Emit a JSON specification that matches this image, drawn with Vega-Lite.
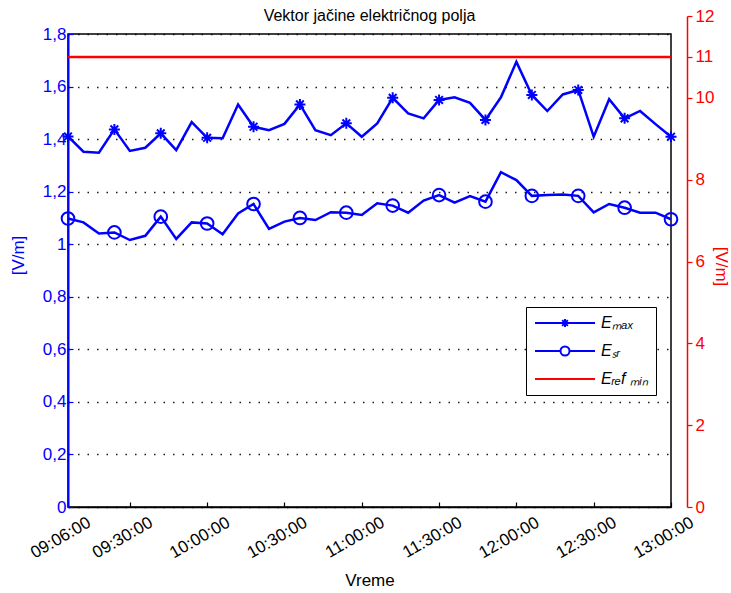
{
  "$schema": "https://vega.github.io/schema/vega-lite/v6.json",
  "width": 603,
  "height": 473,
  "autosize": {"type": "none"},
  "padding": {"left": 68, "top": 34, "right": 60, "bottom": 86},
  "background": "white",
  "title": {"text": "Vektor jačine električnog polja", "fontSize": 16, "fontWeight": "normal", "font": "Liberation Sans", "color": "black", "offset": 0, "dy": 17},
  "config": {
    "font": "Liberation Sans",
    "view": {"stroke": "black", "strokeWidth": 1.5}
  },
  "datasets": {
    "e": [
      {"t": "2000-01-01T09:06:00", "Emax": 1.410, "Esr": 1.098},
      {"t": "2000-01-01T09:12:00", "Emax": 1.352, "Esr": 1.083},
      {"t": "2000-01-01T09:18:00", "Emax": 1.348, "Esr": 1.041},
      {"t": "2000-01-01T09:24:00", "Emax": 1.437, "Esr": 1.045},
      {"t": "2000-01-01T09:30:00", "Emax": 1.355, "Esr": 1.016},
      {"t": "2000-01-01T09:36:00", "Emax": 1.367, "Esr": 1.032},
      {"t": "2000-01-01T09:42:00", "Emax": 1.422, "Esr": 1.105},
      {"t": "2000-01-01T09:48:00", "Emax": 1.358, "Esr": 1.020},
      {"t": "2000-01-01T09:54:00", "Emax": 1.465, "Esr": 1.083},
      {"t": "2000-01-01T10:00:00", "Emax": 1.405, "Esr": 1.079},
      {"t": "2000-01-01T10:06:00", "Emax": 1.403, "Esr": 1.038},
      {"t": "2000-01-01T10:12:00", "Emax": 1.532, "Esr": 1.117},
      {"t": "2000-01-01T10:18:00", "Emax": 1.447, "Esr": 1.153},
      {"t": "2000-01-01T10:24:00", "Emax": 1.434, "Esr": 1.058},
      {"t": "2000-01-01T10:30:00", "Emax": 1.458, "Esr": 1.086},
      {"t": "2000-01-01T10:36:00", "Emax": 1.532, "Esr": 1.100},
      {"t": "2000-01-01T10:42:00", "Emax": 1.434, "Esr": 1.092},
      {"t": "2000-01-01T10:48:00", "Emax": 1.415, "Esr": 1.122},
      {"t": "2000-01-01T10:54:00", "Emax": 1.460, "Esr": 1.120},
      {"t": "2000-01-01T11:00:00", "Emax": 1.409, "Esr": 1.111},
      {"t": "2000-01-01T11:06:00", "Emax": 1.460, "Esr": 1.156},
      {"t": "2000-01-01T11:12:00", "Emax": 1.557, "Esr": 1.147},
      {"t": "2000-01-01T11:18:00", "Emax": 1.498, "Esr": 1.120},
      {"t": "2000-01-01T11:24:00", "Emax": 1.479, "Esr": 1.166},
      {"t": "2000-01-01T11:30:00", "Emax": 1.549, "Esr": 1.187},
      {"t": "2000-01-01T11:36:00", "Emax": 1.559, "Esr": 1.158},
      {"t": "2000-01-01T11:42:00", "Emax": 1.538, "Esr": 1.183},
      {"t": "2000-01-01T11:48:00", "Emax": 1.473, "Esr": 1.162},
      {"t": "2000-01-01T11:54:00", "Emax": 1.559, "Esr": 1.274},
      {"t": "2000-01-01T12:00:00", "Emax": 1.694, "Esr": 1.244},
      {"t": "2000-01-01T12:06:00", "Emax": 1.568, "Esr": 1.184},
      {"t": "2000-01-01T12:12:00", "Emax": 1.507, "Esr": 1.187},
      {"t": "2000-01-01T12:18:00", "Emax": 1.570, "Esr": 1.189},
      {"t": "2000-01-01T12:24:00", "Emax": 1.587, "Esr": 1.184},
      {"t": "2000-01-01T12:30:00", "Emax": 1.409, "Esr": 1.121},
      {"t": "2000-01-01T12:36:00", "Emax": 1.552, "Esr": 1.153},
      {"t": "2000-01-01T12:42:00", "Emax": 1.479, "Esr": 1.139},
      {"t": "2000-01-01T12:48:00", "Emax": 1.507, "Esr": 1.120},
      {"t": "2000-01-01T12:54:00", "Emax": 1.457, "Esr": 1.120},
      {"t": "2000-01-01T13:00:00", "Emax": 1.409, "Esr": 1.095}
    ],
    "ref": [
      {"series": "Eref min", "value": 11}
    ]
  },
  "data": {"name": "e"},
  "layer": [
    {
      "layer": [
        {
          "transform": [{"fold": ["Emax", "Esr"], "as": ["series", "value"]}],
          "mark": {"type": "line", "color": "#0000ff", "strokeWidth": 2.5},
          "encoding": {
            "x": {
              "field": "t", "type": "temporal", "title": "Vreme",
              "scale": {"domain": [{"year": 2000, "month": 1, "date": 1, "hours": 9, "minutes": 6}, {"year": 2000, "month": 1, "date": 1, "hours": 13, "minutes": 0}]},
              "axis": {
                "values": [
                  {"year": 2000, "month": 1, "date": 1, "hours": 9, "minutes": 6},
                  {"year": 2000, "month": 1, "date": 1, "hours": 9, "minutes": 30},
                  {"year": 2000, "month": 1, "date": 1, "hours": 10, "minutes": 0},
                  {"year": 2000, "month": 1, "date": 1, "hours": 10, "minutes": 30},
                  {"year": 2000, "month": 1, "date": 1, "hours": 11, "minutes": 0},
                  {"year": 2000, "month": 1, "date": 1, "hours": 11, "minutes": 30},
                  {"year": 2000, "month": 1, "date": 1, "hours": 12, "minutes": 0},
                  {"year": 2000, "month": 1, "date": 1, "hours": 12, "minutes": 30},
                  {"year": 2000, "month": 1, "date": 1, "hours": 13, "minutes": 0}
                ],
                "format": "%H:%M:%S",
                "grid": false,
                "domainColor": "black", "domainWidth": 1.5,
                "tickColor": "black", "tickSize": -5, "tickWidth": 1.2,
                "labelAngle": -30, "labelAlign": "right", "labelBaseline": "top",
                "labelOffset": 17, "labelPadding": 12, "labelFontSize": 17, "labelColor": "black",
                "labelOverlap": false, "labelBound": false, "labelFlush": false,
                "titleFontSize": 17, "titleFontWeight": "normal", "titleColor": "black",
                "titleY": 65, "titleBaseline": "top"
              }
            },
            "y": {
              "field": "value", "type": "quantitative", "title": "[V/m]",
              "scale": {"domain": [0, 1.8]},
              "axis": {
                "values": [0, 0.2, 0.4, 0.6, 0.8, 1, 1.2, 1.4, 1.6, 1.8],
                "labelExpr": "datum.value == 0 ? '0' : datum.value == 1 ? '1' : replace(format(datum.value, '.1f'), '.', ',')",
                "grid": true, "gridColor": "black", "gridDash": [1.5, 8], "gridWidth": 1.5, "gridOpacity": 0.9,
                "domainColor": "#0000ff", "domainWidth": 2,
                "tickColor": "#0000ff", "tickSize": -5, "tickWidth": 1.2,
                "labelColor": "#0000ff", "labelFontSize": 17, "labelPadding": 7,
                "titleColor": "#0000ff", "titleFontSize": 17, "titleFontWeight": "normal",
                "titleX": -50, "titleY": 221, "titleBaseline": "middle"
              }
            },
            "detail": {"field": "series"}
          }
        },
        {
          "transform": [{"filter": "(hours(toDate(datum.t)) * 60 + minutes(toDate(datum.t)) - 546) % 18 == 0"}],
          "mark": {"type": "point", "shape": "M0,-1V1M-1,0H1M-0.7,-0.7L0.7,0.7M-0.7,0.7L0.7,-0.7", "filled": false, "color": "#0000ff", "strokeWidth": 2, "size": 121, "opacity": 1},
          "encoding": {
            "x": {"field": "t", "type": "temporal", "title": "Vreme"},
            "y": {"field": "Emax", "type": "quantitative", "title": "[V/m]"}
          }
        },
        {
          "transform": [{"filter": "(hours(toDate(datum.t)) * 60 + minutes(toDate(datum.t)) - 546) % 18 == 0"}],
          "mark": {"type": "point", "shape": "circle", "filled": false, "color": "#0000ff", "strokeWidth": 2, "size": 160, "opacity": 1},
          "encoding": {
            "x": {"field": "t", "type": "temporal", "title": "Vreme"},
            "y": {"field": "Esr", "type": "quantitative", "title": "[V/m]"}
          }
        },
        {
          "transform": [{"fold": ["Emax", "Esr"], "as": ["series", "value"]}, {"filter": "false"}],
          "mark": {"type": "point", "filled": false, "strokeWidth": 2, "opacity": 1},
          "encoding": {
            "shape": {
              "field": "series", "type": "nominal",
              "scale": {
                "domain": ["Emax", "Esr", "Eref min"],
                "range": [
                  "M-6,0H6M0,-0.8V0.8M-0.8,0H0.8M-0.57,-0.57L0.57,0.57M-0.57,0.57L0.57,-0.57",
                  "M-6,0H-0.9M0.9,0H6M0.9,0A0.9,0.9 0 1,1 -0.9,0A0.9,0.9 0 1,1 0.9,0",
                  "M-6,0H6"
                ]
              },
              "legend": {
                "orient": "none", "legendX": 458, "legendY": 273, "title": null,
                "fillColor": "white", "strokeColor": "black", "padding": 8,
                "symbolSize": 100, "symbolOffset": 23, "symbolStrokeWidth": 2, "symbolFillColor": "transparent",
                "labelOffset": 28, "labelFontSize": 16, "labelFontStyle": "italic", "labelColor": "black",
                "rowPadding": 11,
                "labelExpr": "datum.label == 'Emax' ? 'Eₘₐₓ' : datum.label == 'Esr' ? 'Eₛᵣ' : 'Eᵣₑf ₘᵢₙ'"
              }
            },
            "stroke": {
              "field": "series", "type": "nominal",
              "scale": {"domain": ["Emax", "Esr", "Eref min"], "range": ["#0000ff", "#0000ff", "#ff0000"]},
              "legend": {
                "orient": "none", "legendX": 458, "legendY": 273, "title": null,
                "fillColor": "white", "strokeColor": "black", "padding": 8,
                "symbolSize": 100, "symbolOffset": 23, "symbolStrokeWidth": 2, "symbolFillColor": "transparent",
                "labelOffset": 28, "labelFontSize": 16, "labelFontStyle": "italic", "labelColor": "black",
                "rowPadding": 11,
                "labelExpr": "datum.label == 'Emax' ? 'Eₘₐₓ' : datum.label == 'Esr' ? 'Eₛᵣ' : 'Eᵣₑf ₘᵢₙ'"
              }
            }
          }
        }
      ]
    },
    {
      "data": {"name": "ref"},
      "mark": {"type": "rule", "color": "#ff0000", "strokeWidth": 2.5},
      "encoding": {
        "y": {
          "field": "value", "type": "quantitative", "title": "[V/m]",
          "scale": {"domain": [0, 12], "range": [473, -18]},
          "axis": {
            "orient": "right", "offset": 16,
            "values": [0, 2, 4, 6, 8, 10, 11, 12],
            "grid": false,
            "domainColor": "#ff0000", "domainWidth": 1.5,
            "tickColor": "#ff0000", "tickSize": 5, "tickWidth": 1.2,
            "labelColor": "#ff0000", "labelFontSize": 17, "labelPadding": 3,
            "titleColor": "#ff0000", "titleFontSize": 17, "titleFontWeight": "normal",
            "titleX": 33, "titleY": 232, "titleBaseline": "middle"
          }
        }
      }
    }
  ],
  "resolve": {"scale": {"y": "independent"}}
}
